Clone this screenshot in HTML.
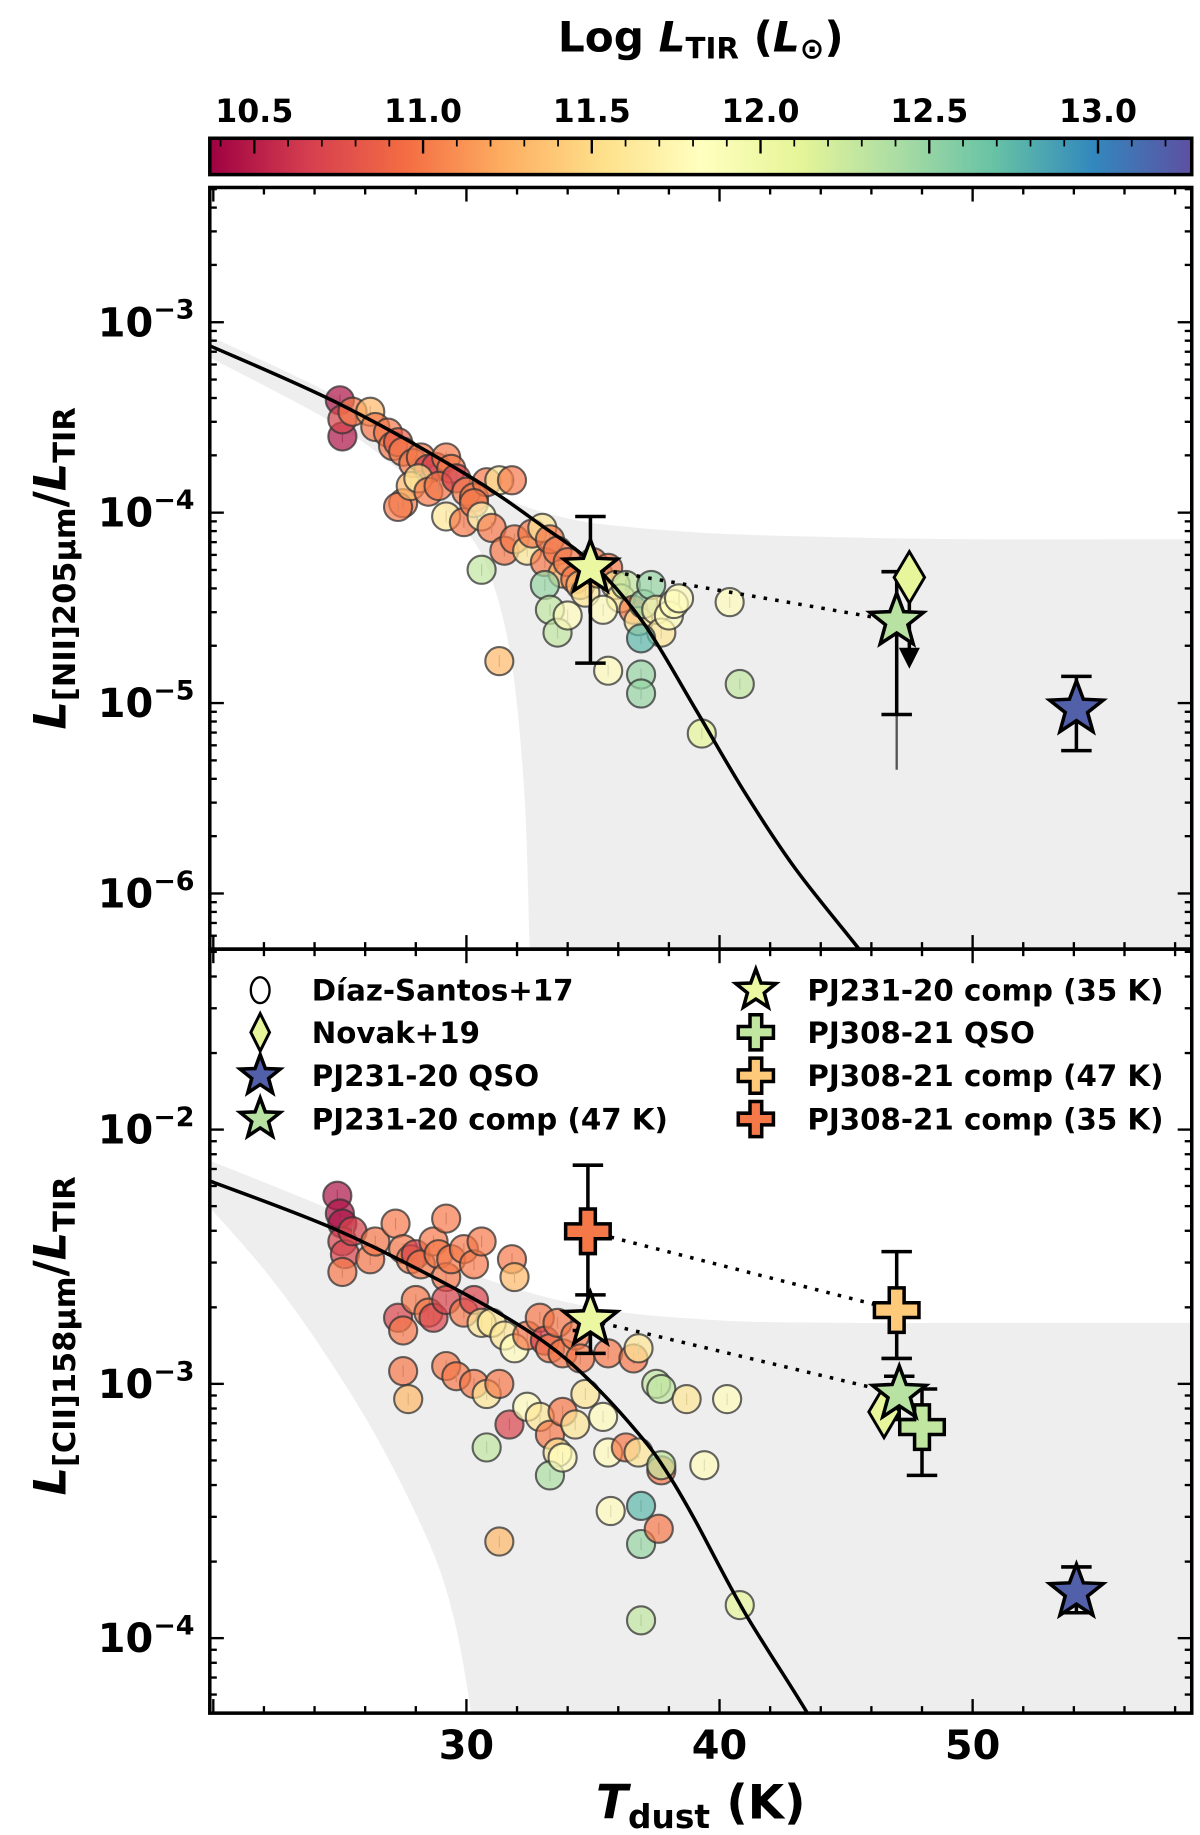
<!DOCTYPE html>
<html><head><meta charset="utf-8"><style>
html,body{margin:0;padding:0;background:#fff;}
svg{display:block;font-family:"DejaVu Sans","Liberation Sans",sans-serif;font-weight:bold;}
</style></head><body>
<svg id="fig" width="1200" height="1835" viewBox="0 0 1024 1566" xmlns="http://www.w3.org/2000/svg">
<defs>
<linearGradient id="cmap" x1="0" x2="1" y1="0" y2="0">
<stop offset="0" stop-color="#9e0142"/><stop offset="0.1" stop-color="#d53e4f"/><stop offset="0.2" stop-color="#f46d43"/><stop offset="0.3" stop-color="#fdae61"/><stop offset="0.4" stop-color="#fee08b"/><stop offset="0.5" stop-color="#ffffbf"/><stop offset="0.6" stop-color="#e6f598"/><stop offset="0.7" stop-color="#abdda4"/><stop offset="0.8" stop-color="#66c2a5"/><stop offset="0.9" stop-color="#3288bd"/><stop offset="1" stop-color="#5e4fa2"/>
</linearGradient>
<clipPath id="clipTop"><rect x="179" y="160" width="838" height="650"/></clipPath>
<clipPath id="clipBot"><rect x="179" y="810" width="838" height="652"/></clipPath>
</defs>
<text x="598" y="44" text-anchor="middle" font-size="36">Log <tspan font-style="italic">L</tspan><tspan font-size="25" dy="6">TIR</tspan><tspan dy="-6"> (</tspan><tspan font-style="italic">L</tspan><tspan font-size="25" dy="6">⊙</tspan><tspan dy="-6">)</tspan></text>
<rect x="179" y="118" width="838" height="31" fill="url(#cmap)" stroke="#000" stroke-width="3"/>
<g id="cbticks"></g>
<g id="top"></g>
<g id="bot"></g>
<text x="598" y="1552" text-anchor="middle" font-size="40"><tspan font-style="italic">T</tspan><tspan font-size="28" dy="8">dust</tspan><tspan dy="-8"> (K)</tspan></text>
<text transform="translate(56,485) rotate(-90)" text-anchor="middle" font-size="38"><tspan font-style="italic">L</tspan><tspan font-size="26" dy="8">[NII]205μm</tspan><tspan dy="-8">/</tspan><tspan font-style="italic">L</tspan><tspan font-size="26" dy="8">TIR</tspan></text>
<text transform="translate(56,1140) rotate(-90)" text-anchor="middle" font-size="38"><tspan font-style="italic">L</tspan><tspan font-size="26" dy="8">[CII]158μm</tspan><tspan dy="-8">/</tspan><tspan font-style="italic">L</tspan><tspan font-size="26" dy="8">TIR</tspan></text>
<g id="legend"></g>
</svg>
<script>
// ---- data ----
const cbTicks=[10.5,11.0,11.5,12.0,12.5,13.0];
const xTicks=[30,40,50];
const topTicks=[-3,-4,-5,-6];
const botTicks=[-2,-3,-4];
const topT=[25.0,25.1,25.1,25.5,26.2,26.4,26.9,27.1,27.3,27.5,27.9,28.2,28.5,28.8,29.2,29.4,27.5,27.3,27.8,28.1,28.5,28.9,29.6,30.0,30.3,30.8,31.3,31.8,29.2,29.9,30.3,30.6,31.0,31.5,31.9,32.4,32.6,33.0,33.1,33.3,33.6,33.8,34.0,34.3,34.5,34.7,35.0,35.2,35.6,35.9,36.1,36.3,36.6,36.8,37.0,37.3,37.5,37.7,38.0,38.2,38.4,40.4,33.1,33.3,33.6,30.6,31.3,35.6,36.9,36.9,36.9,40.8,39.3,34.0,35.4];
const topR=[-3.41,-3.60,-3.51,-3.47,-3.47,-3.55,-3.58,-3.65,-3.63,-3.68,-3.74,-3.71,-3.77,-3.76,-3.71,-3.77,-3.95,-3.97,-3.86,-3.82,-3.89,-3.86,-3.82,-3.89,-3.92,-3.84,-3.83,-3.83,-4.02,-4.05,-3.95,-4.02,-4.08,-4.20,-4.14,-4.20,-4.11,-4.08,-4.26,-4.14,-4.20,-4.32,-4.26,-4.35,-4.38,-4.42,-4.26,-4.32,-4.29,-4.38,-4.45,-4.38,-4.51,-4.57,-4.48,-4.38,-4.51,-4.63,-4.54,-4.48,-4.45,-4.47,-4.38,-4.51,-4.63,-4.30,-4.78,-4.83,-4.66,-4.85,-4.95,-4.90,-5.16,-4.54,-4.51];
const topL=[10.45,10.45,10.7,11.0,11.3,11.0,11.0,11.0,10.85,11.0,11.0,11.0,10.7,10.7,11.0,11.0,11.0,11.0,11.3,11.6,11.0,11.0,10.7,11.0,11.0,11.0,11.6,11.0,11.6,11.0,11.0,11.8,11.0,11.0,11.0,11.6,11.0,11.6,11.0,11.0,11.0,11.3,11.0,11.0,11.3,11.6,11.0,11.3,11.0,11.6,11.6,12.3,11.0,11.6,12.5,12.5,11.7,11.6,11.8,11.8,11.8,11.8,12.5,12.3,12.3,12.3,11.3,11.8,12.75,12.5,12.5,12.3,12.1,11.8,11.8];
const botT=[24.9,25.0,25.1,25.1,25.2,25.1,25.5,26.2,26.4,27.2,27.5,27.8,28.0,28.2,28.7,28.9,29.2,29.4,29.9,30.3,30.6,31.8,31.9,27.3,27.5,28.0,28.5,28.7,29.2,29.9,30.3,30.6,31.0,31.5,31.9,32.4,32.9,33.1,33.3,33.6,33.8,34.3,34.5,35.6,36.6,36.8,37.5,37.7,38.7,40.3,27.5,27.7,29.2,29.6,30.3,30.8,31.3,31.7,32.4,32.9,33.3,33.6,33.8,34.3,34.7,35.4,35.6,36.3,36.8,37.7,37.7,39.4,30.8,33.3,33.8,35.7,36.9,36.9,37.6,36.9,40.8,31.3,29.2];
const botR=[-2.26,-2.33,-2.37,-2.44,-2.49,-2.56,-2.40,-2.51,-2.44,-2.37,-2.47,-2.51,-2.49,-2.53,-2.44,-2.49,-2.58,-2.51,-2.47,-2.53,-2.44,-2.51,-2.58,-2.74,-2.79,-2.67,-2.72,-2.74,-2.67,-2.72,-2.67,-2.76,-2.76,-2.81,-2.86,-2.81,-2.74,-2.83,-2.86,-2.76,-2.88,-2.81,-2.90,-2.88,-2.90,-2.86,-3.00,-3.02,-3.06,-3.06,-2.95,-3.06,-2.93,-2.97,-3.00,-3.04,-3.00,-3.16,-3.09,-3.13,-3.20,-3.27,-3.11,-3.16,-3.04,-3.13,-3.27,-3.25,-3.27,-3.34,-3.32,-3.32,-3.25,-3.36,-3.29,-3.50,-3.48,-3.63,-3.57,-3.93,-3.87,-3.62,-2.35];
const botL=[10.45,10.45,10.45,10.7,10.7,11.0,10.7,11.0,11.0,11.0,11.0,11.0,10.7,11.0,11.0,11.0,11.0,11.0,11.0,11.0,11.0,11.0,11.3,10.7,11.0,11.0,11.0,10.7,10.7,11.0,10.7,11.6,11.6,11.6,11.8,11.0,11.0,10.7,11.0,11.0,11.0,11.0,11.0,11.0,11.0,11.6,12.3,12.3,11.6,11.8,11.0,11.3,11.0,11.0,11.0,11.6,11.0,10.7,11.8,11.6,11.0,11.6,11.0,11.6,11.6,11.8,11.8,11.0,11.6,11.0,12.3,11.8,12.3,12.4,11.8,11.8,12.75,12.5,11.0,12.3,12.1,11.3,11.0];
const topCurveT=[19.8,25,30,33,35,37,39,41,43,45.5,47];
const topCurveR=[-3.12,-3.43,-3.80,-4.07,-4.27,-4.58,-5.02,-5.47,-5.87,-6.29,-6.55];
const topBandUpT=[19.8,25,30,32,34,36,40,45,50,58.7];
const topBandUpR=[-3.07,-3.40,-3.80,-3.95,-4.03,-4.07,-4.11,-4.13,-4.14,-4.14];
const topBandLoT=[19.8,25,28,30,31,31.8,32.3,32.5,32.6];
const topBandLoR=[-3.18,-3.55,-3.85,-4.10,-4.35,-4.80,-5.50,-6.29,-6.5];
const botCurveT=[19.8,25,30,33,35,37,38,39,41,43.5,44.5];
const botCurveR=[-2.20,-2.40,-2.65,-2.83,-3.00,-3.22,-3.36,-3.53,-3.90,-4.30,-4.5];
const botBandUpT=[19.8,25,30,35,40,45,50,58.7];
const botBandUpR=[-2.12,-2.33,-2.56,-2.70,-2.75,-2.76,-2.76,-2.76];
const botBandLoT=[19.8,22,24,26.4,28.5,29.5,30.2,30.4];
const botBandLoR=[-2.30,-2.55,-2.82,-3.20,-3.62,-3.92,-4.30,-4.5];
const topStar35=[34.9,-4.29,-4.79,-4.02,12.05];
const topStar47=[47.0,-4.57,-5.06,-4.31,12.35];
const topNovak=[47.5,-4.34,12.1];
const topQSO=[54.1,-5.03,-5.25,-4.86,13.2];
const botCross35=[34.8,-2.40,-2.79,-2.14,11.0];
const botStar35=[34.9,-2.75,-2.88,-2.65,12.05];
const botCross47=[47.0,-2.71,-2.90,-2.48,11.4];
const botStar47=[47.1,-3.04,-3.14,-2.97,12.35];
const botNovak=[46.5,-3.11,12.1];
const botQSOc=[48.0,-3.17,-3.36,-3.02,12.3];
const botQSO=[54.1,-3.82,-3.90,-3.72,13.2];

// ---- scales ----
const X0=179,X1=1017;
const tx=T=>398+(T-30)*21.6;
const yTop=v=>275-(v+3)*162.5;
const yBot=v=>964-(v+2)*217;
const cbx=v=>217+(v-10.5)*288;
const stops=['#9e0142','#d53e4f','#f46d43','#fdae61','#fee08b','#ffffbf','#e6f598','#abdda4','#66c2a5','#3288bd','#5e4fa2'];
function hex(h){return [1,3,5].map(i=>parseInt(h.substr(i,2),16));}
function cmap(L){let f=(L-10.37)/(13.28-10.37);f=Math.max(0,Math.min(1,f))*10;const i=Math.min(9,Math.floor(f)),t=f-i;const a=hex(stops[i]),b=hex(stops[i+1]);return 'rgb('+a.map((v,k)=>Math.round(v+(b[k]-v)*t)).join(',')+')';}
const NS='http://www.w3.org/2000/svg';
function mk(tag,attrs,parent){const e=document.createElementNS(NS,tag);for(const k in attrs)e.setAttribute(k,attrs[k]);parent.appendChild(e);return e;}

const cbg=document.getElementById('cbticks');
for(let v=10.4;v<13.26;v+=0.1){const x=cbx(v);const major=Math.abs(Math.round(v*2)/2-v)<0.001;
 const tk=mk('line',{x1:x,x2:x,y1:118,y2:major?131:125,stroke:'#000','stroke-width':major?2:1.5},cbg);
 
 }
cbTicks.forEach(v=>{const t=mk('text',{x:cbx(v),y:104,'text-anchor':'middle','font-size':27},cbg);t.textContent=v.toFixed(1);
 
 });

function star(cx,cy,R){let p=[];for(let i=0;i<10;i++){const r=i%2?R*0.42:R;const a=-Math.PI/2+i*Math.PI/5;p.push((cx+r*Math.cos(a)).toFixed(1)+','+(cy+r*Math.sin(a)).toFixed(1));}return p.join(' ');}
function cross(cx,cy,s){const a=s/2,b=s/6;return [[-b,-a],[b,-a],[b,-b],[a,-b],[a,b],[b,b],[b,a],[-b,a],[-b,b],[-a,b],[-a,-b],[-b,-b]].map(q=>(cx+q[0])+','+(cy+q[1])).join(' ');}
function diamond(cx,cy,w,h){return `${cx},${cy-h} ${cx+w},${cy} ${cx},${cy+h} ${cx-w},${cy}`;}
function errbar(g,x,y1,y2,name){mk('line',{x1:x,x2:x,y1:y1,y2:y2,stroke:'#000','stroke-width':3},g);
 mk('line',{x1:x-13,x2:x+13,y1:y1,y2:y1,stroke:'#000','stroke-width':3},g);mk('line',{x1:x-13,x2:x+13,y1:y2,y2:y2,stroke:'#000','stroke-width':3},g);}
// smooth Catmull-Rom path
function smooth(Ts,Rs,ys,start){const P=Ts.map((t,i)=>[tx(t),ys(Rs[i])]);let d=(start?'M':'L')+P[0][0].toFixed(1)+','+P[0][1].toFixed(1);
 for(let i=0;i<P.length-1;i++){const p0=P[Math.max(0,i-1)],p1=P[i],p2=P[i+1],p3=P[Math.min(P.length-1,i+2)];
  const c1=[p1[0]+(p2[0]-p0[0])/6,p1[1]+(p2[1]-p0[1])/6],c2=[p2[0]-(p3[0]-p1[0])/6,p2[1]-(p3[1]-p1[1])/6];
  d+=' C'+c1.map(v=>v.toFixed(1)).join(',')+' '+c2.map(v=>v.toFixed(1)).join(',')+' '+p2.map(v=>v.toFixed(1)).join(',');}
 return d;}

function panel(gid,top,bottom,ys,ticks,lo,hi,clip,d){
 const g=document.getElementById(gid);
 const inner=mk('g',{'clip-path':'url(#'+clip+')'},g);
 let bp=smooth(d.upT,d.upR,ys,true)+' L'+X1+','+(bottom+20)+' L'+tx(d.loT[d.loT.length-1]).toFixed(1)+','+(bottom+20)+' ';
 bp+=smooth(d.loT.slice().reverse(),d.loR.slice().reverse(),ys,false)+' Z';
 const band=mk('path',{d:bp,fill:'#eeeeee'},inner);
 
 
 d.T.forEach((t,i)=>{const cx=tx(t),cy=ys(d.R[i]);
  mk('line',{x1:cx,x2:cx,y1:cy-5,y2:cy+5,stroke:'#999','stroke-width':1},inner);
  const c=mk('circle',{cx:cx,cy:cy,r:12,fill:cmap(d.L[i]),'fill-opacity':0.7,stroke:'#333','stroke-opacity':0.75,'stroke-width':1.8},inner);
  
  });
 const cur=mk('path',{d:smooth(d.cT,d.cR,ys,true),fill:'none',stroke:'#000','stroke-width':3},inner);
 
 
 d.extra(inner);
 mk('rect',{x:X0,y:top,width:X1-X0,height:bottom-top,fill:'none',stroke:'#000','stroke-width':3},g);
 for(let T=20;T<=58;T+=2){const x=tx(T);const maj=T%10==0;
  mk('line',{x1:x,x2:x,y1:bottom,y2:bottom-(maj?12:6),stroke:'#000','stroke-width':2},g);
  mk('line',{x1:x,x2:x,y1:top,y2:top+(maj?12:6),stroke:'#000','stroke-width':2},g);}
 for(let dcd=Math.floor(lo);dcd<=Math.ceil(hi);dcd++){for(let m=1;m<10;m++){const v=dcd+Math.log10(m);if(v<lo||v>hi)continue;const y=ys(v);const maj=m==1;
  mk('line',{x1:X0,x2:X0+(maj?12:6),y1:y,y2:y,stroke:'#000','stroke-width':2},g);
  mk('line',{x1:X1,x2:X1-(maj?12:6),y1:y,y2:y,stroke:'#000','stroke-width':2},g);}}
 ticks.forEach(v=>{const t=mk('text',{x:166,y:ys(v)+12,'text-anchor':'end','font-size':34},g);
  
  
  t.innerHTML='10<tspan font-size="23" dy="-15">−'+(-v)+'</tspan>';});
 return g;}

panel('top',160,810,yTop,topTicks,-6.29,-2.30,'clipTop',{upT:topBandUpT,upR:topBandUpR,loT:topBandLoT,loR:topBandLoR,T:topT,R:topR,L:topL,cT:topCurveT,cR:topCurveR,
 extra:g=>{
  const dl=mk('line',{x1:tx(topStar35[0]),y1:yTop(topStar35[1]),x2:tx(topStar47[0]),y2:yTop(topStar47[1]),stroke:'#000','stroke-width':3,'stroke-dasharray':'3,7'},g);
  
  mk('line',{x1:tx(topStar47[0]),x2:tx(topStar47[0]),y1:yTop(topStar47[1]),y2:yTop(-5.35),stroke:'#555','stroke-width':2},g);
  errbar(g,tx(topStar35[0]),yTop(topStar35[2]),yTop(topStar35[3]),'pj231-comp35-errorbar');
  errbar(g,tx(topStar47[0]),yTop(topStar47[2]),yTop(topStar47[3]),'pj231-comp47-errorbar');
  errbar(g,tx(topQSO[0]),yTop(topQSO[2]),yTop(topQSO[3]),'pj231-qso-errorbar');
  const nx=tx(topNovak[0]),ny=yTop(topNovak[1]);
  mk('line',{x1:nx,x2:nx,y1:ny,y2:ny+62,stroke:'#000','stroke-width':3},g);
  mk('polygon',{points:`${nx-9},${ny+60} ${nx+9},${ny+60} ${nx},${ny+78}`,fill:'#000'},g);
  const nd=mk('polygon',{points:diamond(nx,ny,13,22),fill:cmap(topNovak[2]),stroke:'#000','stroke-width':2.5},g);
  
  
  [[topStar35,'pj231-comp35-star'],[topStar47,'pj231-comp47-star'],[topQSO,'pj231-qso-star']].forEach(([s,n])=>{
   const p=mk('polygon',{points:star(tx(s[0]),yTop(s[1]),24),fill:cmap(s[4]),stroke:'#000','stroke-width':3},g);
   
   });
 }});

panel('bot',810,1462,yBot,botTicks,-4.30,-1.29,'clipBot',{upT:botBandUpT,upR:botBandUpR,loT:botBandLoT,loR:botBandLoR,T:botT,R:botR,L:botL,cT:botCurveT,cR:botCurveR,
 extra:g=>{
  const d1=mk('line',{x1:tx(botCross35[0]),y1:yBot(botCross35[1]),x2:tx(botCross47[0]),y2:yBot(botCross47[1]),stroke:'#000','stroke-width':3,'stroke-dasharray':'3,7'},g);
  
  const d2=mk('line',{x1:tx(botStar35[0]),y1:yBot(botStar35[1]),x2:tx(botStar47[0]),y2:yBot(botStar47[1]),stroke:'#000','stroke-width':3,'stroke-dasharray':'3,7'},g);
  
  [[botCross35,'pj308-comp35-errorbar'],[botStar35,'pj231-comp35-errorbar'],[botCross47,'pj308-comp47-errorbar'],[botStar47,'pj231-comp47-errorbar'],[botQSOc,'pj308-qso-errorbar'],[botQSO,'pj231-qso-errorbar']].forEach(([s,n])=>errbar(g,tx(s[0]),yBot(s[2]),yBot(s[3]),n));
  const nd=mk('polygon',{points:diamond(tx(botNovak[0]),yBot(botNovak[1]),13,22),fill:cmap(botNovak[2]),stroke:'#000','stroke-width':2.5},g);
  
  
  [[botCross35,'pj308-comp35-cross'],[botCross47,'pj308-comp47-cross'],[botQSOc,'pj308-qso-cross']].forEach(([s,n])=>{
   const p=mk('polygon',{points:cross(tx(s[0]),yBot(s[1]),38),fill:cmap(s[4]),stroke:'#000','stroke-width':3},g);
   
   });
  [[botStar35,'pj231-comp35-star'],[botStar47,'pj231-comp47-star'],[botQSO,'pj231-qso-star']].forEach(([s,n])=>{
   const p=mk('polygon',{points:star(tx(s[0]),yBot(s[1]),24),fill:cmap(s[4]),stroke:'#000','stroke-width':3},g);
   
   });
 }});

const fig=document.getElementById('fig');
xTicks.forEach(T=>{const t=mk('text',{x:tx(T),y:1501,'text-anchor':'middle','font-size':34},fig);t.textContent=T;
 
 });

const lg=document.getElementById('legend');
const legItems=[
 ['circle',222,845,'#fff','Díaz-Santos+17'],['diamond',222,881,cmap(12.1),'Novak+19'],['star',222,918,cmap(13.2),'PJ231-20 QSO'],['star',222,955,cmap(12.35),'PJ231-20 comp (47 K)'],
 ['star',645,845,cmap(12.05),'PJ231-20 comp (35 K)'],['cross',645,881,cmap(12.3),'PJ308-21 QSO'],['cross',645,918,cmap(11.4),'PJ308-21 comp (47 K)'],['cross',645,955,cmap(11.0),'PJ308-21 comp (35 K)']];
legItems.forEach(([k,x,y,c,label])=>{
 const e=mk('g',{},lg);
 
 
 if(k=='circle')mk('ellipse',{cx:x,cy:y,rx:8,ry:11,fill:'#fff',stroke:'#000','stroke-width':2},e);
 if(k=='diamond')mk('polygon',{points:diamond(x,y,8,16),fill:c,stroke:'#000','stroke-width':2.5},e);
 if(k=='star')mk('polygon',{points:star(x,y,18),fill:c,stroke:'#000','stroke-width':3},e);
 if(k=='cross')mk('polygon',{points:cross(x,y,30),fill:c,stroke:'#000','stroke-width':3},e);
 const t=mk('text',{x:x+44,y:y+9,'font-size':25},e);t.textContent=label;});
</script>
</body></html>
